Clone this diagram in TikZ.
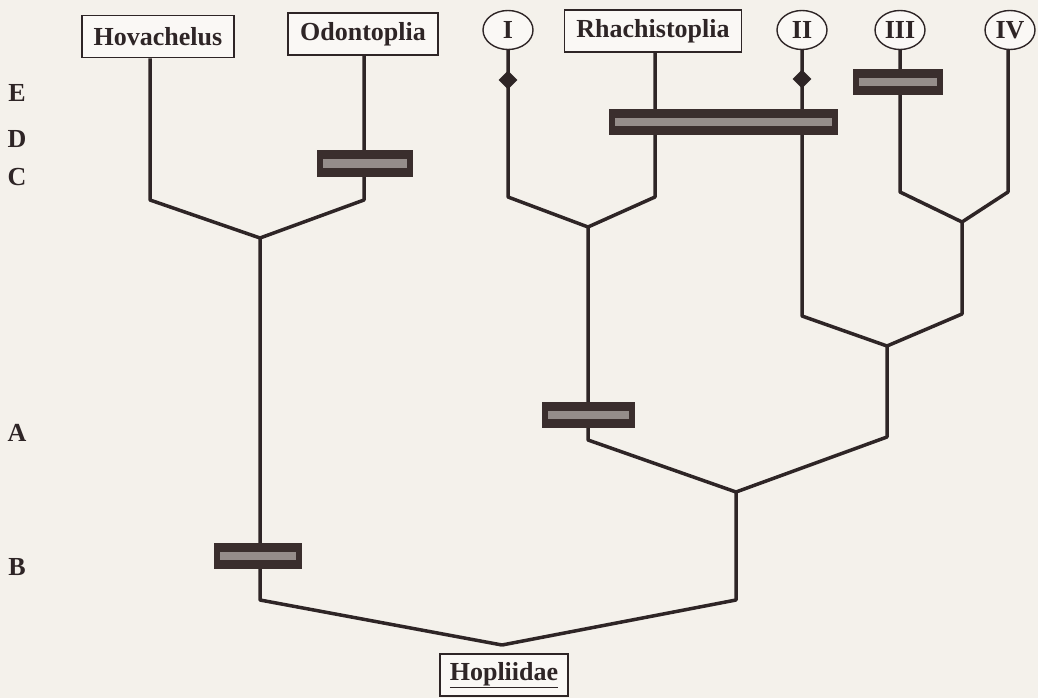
\documentclass[tikz,border=0pt]{standalone}
\usepackage{fontspec}
\setmainfont{Liberation Serif}
\usetikzlibrary{shapes.geometric,positioning}
\definecolor{paper}{HTML}{F4F1EB}
\definecolor{ink}{HTML}{2E2526}
\definecolor{bardark}{HTML}{3A2E2D}
\definecolor{barlight}{HTML}{958D8A}
\tikzset{
  taxon/.style={draw=ink, line width=1.6pt, fill=white!50!paper, text=ink,
    font=\fontsize{26}{30}\selectfont\bfseries, inner xsep=12pt, minimum height=42pt},
  clade/.style={ellipse, draw=ink, line width=1.4pt, fill=white!50!paper, text=ink,
    font=\fontsize{26}{30}\selectfont\bfseries, minimum width=50pt, minimum height=39pt, inner sep=0pt},
  branch/.style={draw=ink, line width=3.5pt, line join=round},
  synapo/.style={fill=bardark, inner sep=0pt,
    path picture={\fill[barlight] ([xshift=6pt,yshift=-9pt]path picture bounding box.north west)
      rectangle ([xshift=-6pt,yshift=9pt]path picture bounding box.south east);}},
  homo/.style={diamond, fill=ink, minimum size=19pt, inner sep=0pt},
  level/.style={text=ink, font=\fontsize{26}{30}\selectfont\bfseries}
}
\begin{document}
\begin{tikzpicture}[x=1pt, y=-1pt]
   \fill[paper] (0,0) rectangle (1038,698);
   \useasboundingbox (0,0) rectangle (1038,698);

   % terminal taxa
   \path (158,36.5) node[taxon] (hov) {Hovachelus}
   (363,34) node[taxon] (odo) {Odontoplia}
   (653,31) node[taxon] (rha) {Rhachistoplia};
   \path (508,30) node[clade] (g1) {I}
   (802,30) node[clade] (g2) {II}
   (900,30) node[clade] (g3) {III}
   (1010,30) node[clade] (g4) {IV};
   \path (504,675) node[taxon, inner xsep=10pt] (hop) {\underline{Hopliidae}};

   % character levels
   \path (17,93) node[level] (lE) {E}
   (17,139) node[level] (lD) {D}
   (17,177) node[level] (lC) {C}
   (17,433) node[level] (lA) {A}
   (17,567) node[level] (lB) {B};

   % corners and branching points
   \coordinate (kHov) at (150,200);
   \coordinate (kOdo) at (364,200);
   \coordinate (kI) at (508,197);
   \coordinate (kRha) at (655,197);
   \coordinate (kII) at (802,316);
   \coordinate (kIII) at (900,192);
   \coordinate (kIV) at (1008,192);
   \coordinate (nHO) at (260,238);
   \coordinate (nIR) at (588,227);
   \coordinate (nIIIIV) at (962,222);
   \coordinate (nII) at (887,346);
   \coordinate (nA) at (736,492);
   \coordinate (root) at (502,645);
   \coordinate (kHO) at (260,600);
   \coordinate (kIR) at (588,440);
   \coordinate (k34) at (962,314);
   \coordinate (k2) at (887,437);
   \coordinate (kA) at (736,600);

   \draw[branch] (kHov |- hov.south) -- (kHov) -- (nHO);
   \draw[branch] (kOdo |- odo.south) -- (kOdo) -- (nHO);
   \draw[branch] (g1.south) -- (kI) -- (nIR);
   \draw[branch] (kRha |- rha.south) -- (kRha) -- (nIR);
   \draw[branch] (g2.south) -- (kII) -- (nII);
   \draw[branch] (g3.south) -- (kIII) -- (nIIIIV);
   \draw[branch] (kIV |- g4.south) -- (kIV) -- (nIIIIV);
   \draw[branch] (nIIIIV) -- (k34) -- (nII);
   \draw[branch] (nII) -- (k2) -- (nA);
   \draw[branch] (nIR) -- (kIR) -- (nA);
   \draw[branch] (nA) -- (kA) -- (root);
   \draw[branch] (nHO) -- (kHO) -- (root);

   % character bars
   \node[synapo, minimum width=96pt, minimum height=27pt] (sC) at (365,163.5) {};
   \node[synapo, minimum width=229pt, minimum height=26pt] (sD) at (723.5,122) {};
   \node[synapo, minimum width=90pt, minimum height=26pt] (sE) at (898,82) {};
   \node[synapo, minimum width=93pt, minimum height=26pt] (sA) at (588.5,415) {};
   \node[synapo, minimum width=88pt, minimum height=26pt] (sB) at (258,556) {};

   \node[homo] (h1) at (508,80) {};
   \node[homo] (h2) at (802,79) {};
\end{tikzpicture}
\end{document}
